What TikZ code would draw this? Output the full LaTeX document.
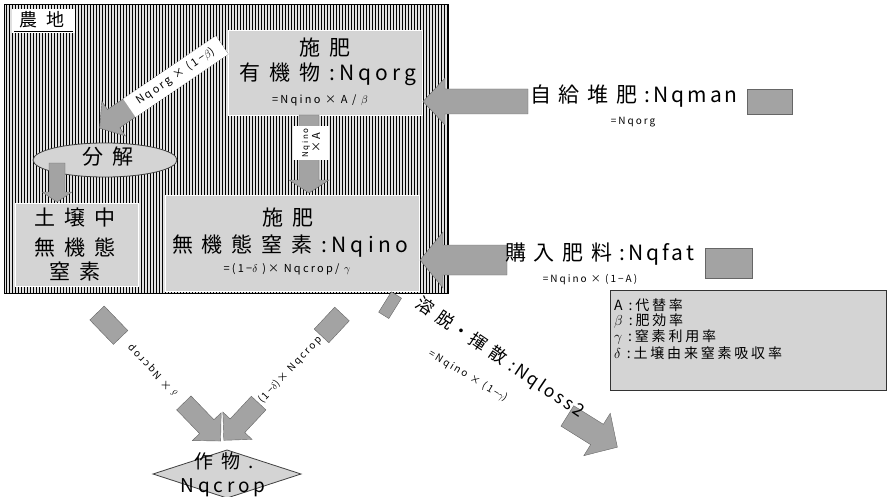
\documentclass[tikz,border=0pt]{standalone}
\usepackage{fontspec}
\setmainfont{Noto Sans CJK JP}
\newfontfamily\jp{Noto Sans CJK JP}[LetterSpace=20]
\newfontfamily\jpn{Noto Sans CJK JP}[LetterSpace=14]
\usetikzlibrary{calc}
\tikzset{
  boxfill/.style={fill=black!17, draw=white, line width=0.8pt},
  arrowfill/.style={fill=black!36, draw=black!60, line width=0.4pt},
  big/.style={font=\jp\fontsize{21}{24}\selectfont, inner sep=0pt},
  mid/.style={font=\jp\fontsize{19}{22}\selectfont, inner sep=0pt},
  small/.style={font=\jp\fontsize{11}{13}\selectfont, inner sep=0pt},
  tiny/.style={font=\jp\fontsize{10}{12}\selectfont, inner sep=0pt},
  leg/.style={font=\jp\fontsize{14}{16}\selectfont, inner sep=0pt, anchor=west},
  whitelabel/.style={fill=white, inner sep=0pt},
}
\newcommand\barrow[7]{% coord, angle, d0, length, shaft half, head half, head length
  \begin{scope}[shift={(#1)},rotate=#2]
    \filldraw[arrowfill] (#3,-#5) -- ({#4-#7},-#5) -- ({#4-#7},-#6) -- (#4,0)
      -- ({#4-#7},#6) -- ({#4-#7},#5) -- (#3,#5) -- cycle;
  \end{scope}}
\newcommand\bpiece[5]{% coord, angle, d0, d1, half width
  \begin{scope}[shift={(#1)},rotate=#2]
    \filldraw[arrowfill] (#3,-#5) rectangle (#4,#5);
  \end{scope}}
\begin{document}
\begin{tikzpicture}[x=1pt,y=-1pt]
\useasboundingbox (0,0) rectangle (890,497);
% field (striped)
\fill[black!12] (4,5) rectangle (448,293);
\foreach \sx in {6,9,...,447} \draw[line width=1pt] (\sx,5) -- (\sx,293);
\draw[line width=1pt] (4,5) rectangle (448,293);
% label
\fill[white] (12,9) rectangle (75,33);
\node[font=\jp\fontsize{18}{20}\selectfont, inner sep=0pt] (field) at (42,20) {農\hspace{9pt}地};
\draw[line width=1pt] (14,31.5) -- (73,31.5);
% boxes
\draw[boxfill] (228,30) rectangle (422,115);
\draw[boxfill] (165,195) rectangle (419,291);
\draw[boxfill] (15,203) rectangle (138,286);
\node[big] (b1a) at (325,48) {施 肥};
\node[big] (b1b) at (328,74) {有 機 物 :Nqorg};
\node[small] (b1c) at (320,100) {=Nqino × A / $\beta$};
\node[big] (b2a) at (288,218) {施 肥};
\node[big] (b2b) at (290,246) {無 機 態 窒 素 :Nqino};
\node[small] (b2c) at (287,269) {=(1−$\delta$ )× Nqcrop/ $\gamma$};
\node[big] (b3a) at (75,218) {土 壌 中};
\node[big] (b3b) at (75,247) {無 機 態};
\node[big] (b3c) at (75,271) {窒 素};
% decomposition ellipse
\filldraw[fill=black!17, draw=black!75, line width=0.8pt] (105,160) ellipse [x radius=72, y radius=17];
\node[big] (bunkai) at (108,157) {分 解};
% arrows inside field
\coordinate (a1) at (57,163);
\barrow{a1}{-90}{0}{39}{8}{15}{10}
\coordinate (a2) at (222,45);
\barrow{a2}{214.2}{0}{148}{11}{21}{17}
\node[whitelabel, rotate=34.2, minimum width=112, minimum height=22,
      font=\jp\fontsize{11}{13}\selectfont] (t2) at ($(a2)+(-46.3,31.5)$) {Nqorg × (1−$\beta$)};
\coordinate (a3) at (309,115);
\barrow{a3}{-90}{0}{78}{10}{20}{13}
\node[whitelabel, rotate=90, minimum width=34, minimum height=36, align=center] (t3) at (311,143)
  {{\jp\fontsize{8}{9}\selectfont Nqino}\\{\jp\fontsize{11}{12}\selectfont ×A}};
% inputs
\coordinate (a4) at (528,101.5);
\barrow{a4}{180}{0}{105}{12.5}{23.5}{22}
\filldraw[arrowfill] (747,89) rectangle (792,114);
\node[font=\jpn\fontsize{21}{24}\selectfont, inner sep=0pt, anchor=west] (t4) at (530,96) {自 給 堆 肥 :Nqman};
\node[tiny] (t4b) at (633,122) {=Nqorg};
\coordinate (a5) at (507,260);
\barrow{a5}{180}{0}{87}{15}{28}{23}
\filldraw[arrowfill] (705,248) rectangle (752,278);
\node[font=\jpn\fontsize{21}{24}\selectfont, inner sep=0pt, anchor=west] (t5) at (505,254) {購 入 肥 料 :Nqfat};
\node[tiny] (t5b) at (590,280) {=Nqino × (1−A)};
% loss
\coordinate (a6) at (385,302);
\bpiece{a6}{-32}{0}{12}{12}
\barrow{a6}{-32}{215}{274}{12}{25}{24}
\node[font=\jpn\fontsize{17.5}{20}\selectfont, inner sep=0pt, rotate=-34] (t6) at (500,358) {溶 脱・揮 散 :Nqloss2};
\node[tiny, rotate=-31] (t6b) at (468,376) {=Nqino × (1−$\gamma$)};
% crop uptake
\coordinate (a7) at (97,313);
\bpiece{a7}{-46}{0}{34}{10}
\barrow{a7}{-46}{125}{178}{10}{20}{20}
\node[tiny, rotate=134] (t7) at (153,370) {$\delta$ × Nqcrop};
\coordinate (a8) at (342,314);
\bpiece{a8}{-133.1}{0}{30}{10}
\barrow{a8}{-133.1}{122}{173}{10}{20}{20}
\node[tiny, rotate=46.9] (t8) at (290,370) {(1−$\delta$)× Nqcrop};
% crop diamond
\filldraw[fill=black!17, draw=black!75, line width=0.8pt] (153,474) -- (227,450) -- (301,474) -- (227,498) -- cycle;
\node[mid] (crop1) at (224,461) {作 物 .};
\node[mid] (crop2) at (223,488) {Nqcrop};
% legend
\filldraw[fill=black!17, draw=black!80, line width=0.6pt] (610,290) rectangle (886,390);
\node[leg] (l1) at (614,305) {A :代替率};
\node[leg] (l2) at (614,321) {$\beta$ :肥効率};
\node[leg] (l3) at (614,337) {$\gamma$ :窒素利用率};
\node[leg] (l4) at (614,353) {$\delta$ :土壌由来窒素吸収率};
\end{tikzpicture}
\end{document}
